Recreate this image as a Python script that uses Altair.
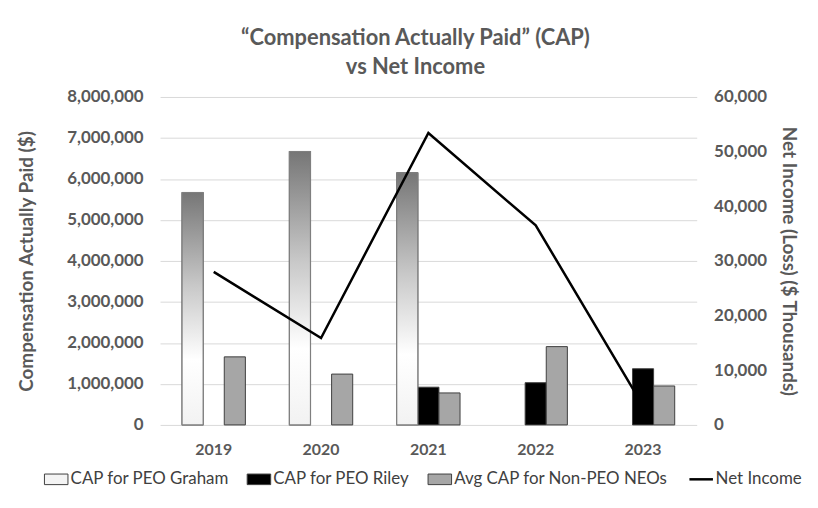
import altair as alt
import pandas as pd

years = ["2019", "2020", "2021", "2022", "2023"]
graham = [5670000, 6670000, 6150000, None, None]
riley = [None, None, 920000, 1030000, 1370000]
avg_neo = [1660000, 1240000, 780000, 1910000, 950000]
net_income = [28000, 15900, 53400, 36500, 3500]

series_names = ["CAP for PEO Graham", "CAP for PEO Riley", "Avg CAP for Non-PEO NEOs", "Net Income"]
series_colors = ["#f4f4f4", "#000000", "#a6a6a6", "#000000"]

rows = []
for name, vals in zip(series_names[:3], [graham, riley, avg_neo]):
    for y, v in zip(years, vals):
        if v is not None:
            rows.append({"year": y, "series": name, "value": v})
bars_df = pd.DataFrame(rows)
line_df = pd.DataFrame({"year": years, "net": net_income})

FONT = "Lato"
GRAY = "#595959"

x_enc = alt.X("year:N", title=None, sort=years,
              scale=alt.Scale(paddingInner=0.41, paddingOuter=0.205),
              axis=alt.Axis(labelAngle=0, labelFontSize=16, labelFontWeight="bold",
                            labelColor=GRAY, ticks=False, domain=False, labelPadding=17,
                            labelFont=FONT, grid=False))
xoff = alt.XOffset("series:N", sort=series_names[:3],
                   scale=alt.Scale(domain=series_names[:3], paddingInner=0, paddingOuter=0))
y_left = alt.Y("value:Q", title="Compensation Actually Paid ($)",
               scale=alt.Scale(domain=[0, 8000000]),
               axis=alt.Axis(format=",.0f", values=list(range(0, 8000001, 1000000)),
                             labelFontSize=17, labelFontWeight="bold", labelColor=GRAY,
                             titleFontSize=19, titleFontWeight="bold", titleColor=GRAY,
                             titleFont=FONT, labelFont=FONT, grid=True,
                             ticks=False, domain=False, gridColor="#d9d9d9", gridWidth=1,
                             labelPadding=17, titlePadding=30))

is_net = "datum.value === 'Net Income'"

bar_main = alt.Chart(bars_df).mark_bar(stroke="#404040", strokeWidth=1).encode(
    x=x_enc,
    xOffset=xoff,
    y=y_left,
    color=alt.Color("series:N",
                    scale=alt.Scale(domain=series_names, range=series_colors),
                    legend=alt.Legend(title=None, orient="none", legendX=-113, legendY=376,
                                      direction="horizontal",
                                      columns=4, labelFontSize=17, labelColor="#404040",
                                      labelFont=FONT, labelLimit=400, symbolSize=560,
                                      columnPadding=15, symbolOffset=0, labelOffset=6,
                                      symbolType={"expr": f"{is_net} ? 'stroke' : 'M-1,-0.45H1V0.45H-1Z'"},
                                      symbolStrokeColor={"expr": f"{is_net} ? '#000000' : '#404040'"},
                                      symbolStrokeWidth={"expr": f"{is_net} ? 2.5 : 1"})),
)

grad = alt.Gradient(
    gradient="linear",
    stops=[alt.GradientStop(color="#767676", offset=0),
           alt.GradientStop(color="#c8c8c8", offset=0.4),
           alt.GradientStop(color="#ffffff", offset=0.72),
           alt.GradientStop(color="#f2f2f2", offset=1)],
    x1=0, x2=0, y1=0, y2=1,
)

bar_grad = alt.Chart(bars_df).transform_filter(
    alt.datum.series == "CAP for PEO Graham"
).mark_bar(fill=grad, stroke="#7f7f7f", strokeWidth=1.2).encode(
    x=x_enc,
    xOffset=xoff,
    y=y_left,
)

bars = alt.layer(bar_main, bar_grad)

line = alt.Chart(line_df).mark_line(color="#000000", strokeWidth=2.5).encode(
    x=x_enc,
    y=alt.Y("net:Q", title="Net Income (Loss) ($ Thousands)",
            scale=alt.Scale(domain=[0, 60000]),
            axis=alt.Axis(orient="right", format=",.0f", values=list(range(0, 60001, 10000)),
                          grid=False, ticks=False, domain=False,
                          labelFontSize=17, labelFontWeight="bold", labelColor=GRAY,
                          titleFontSize=19, titleFontWeight="bold", titleColor=GRAY,
                          titleFont=FONT, labelFont=FONT, labelPadding=17, titlePadding=12)),
)

chart = alt.layer(bars, line).resolve_scale(y="independent").properties(
    width=540,
    height=330,
    title=alt.TitleParams(text=["\u201cCompensation Actually Paid\u201d (CAP)", "vs Net Income"],
                          fontSize=22, font=FONT, fontWeight="bold", color=GRAY,
                          anchor="middle", lineHeight=29, offset=9, dx=-13),
    padding={"left": 10, "top": 18, "right": 8, "bottom": 5},
).configure_view(stroke=None)

chart.save("out.html", embed_options={"renderer": "svg", "actions": False})
